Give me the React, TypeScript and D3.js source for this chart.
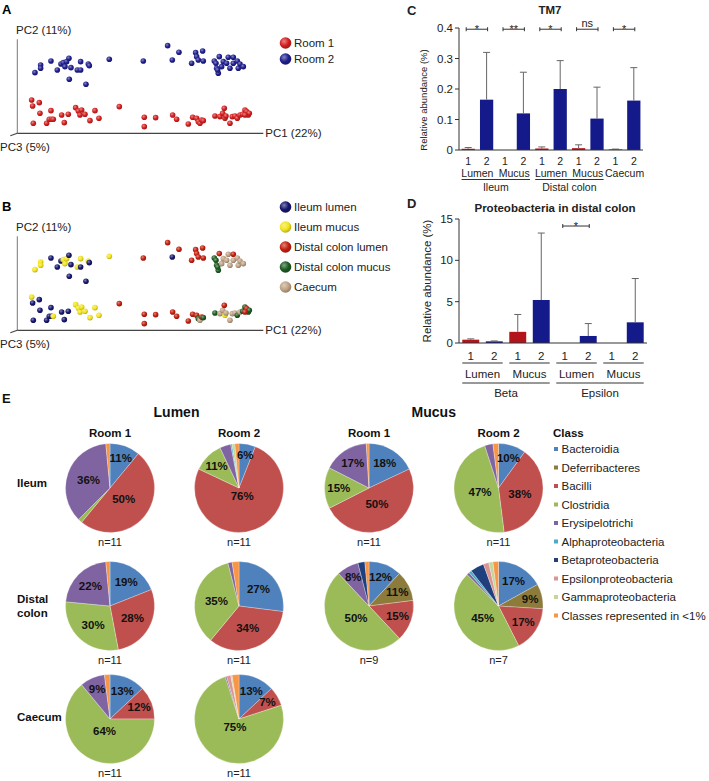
import * as d3 from "d3";

const FONT = "'Liberation Sans', Arial, Helvetica, sans-serif";

// ---------- A / B: PCoA scores (x1000), [PC1, PC2, site] ----------
type Score = [number, number, string];

const room1Scores: Score[] = [
  [-325, -30, "IM"], [-322, -48, "IL"], [-320, -100, "IL"], [-302, -38, "IL"],
  [-300, -70, "IL"], [-280, -100, "IL"], [-272, -88, "IL"], [-267, -62, "IL"],
  [-265, -88, "IL"], [-260, -88, "IM"], [-235, -75, "IL"], [-227, -98, "IL"],
  [-215, -73, "IL"], [-193, -53, "IM"], [-185, -63, "IM"], [-180, -75, "IM"],
  [-175, -60, "IM"], [-165, -73, "IM"], [-150, -92, "IM"], [-135, -62, "IM"],
  [-123, -85, "IM"], [-62, -50, "DL"], [13, -82, "DL"], [13, -110, "DL"],
  [47, -83, "DL"], [98, -75, "DL"], [110, -88, "DL"], [145, -102, "DL"],
  [158, -82, "DL"], [170, -85, "DL"], [175, -95, "DM"], [180, -100, "C"],
  [185, -90, "DL"], [190, -92, "DM"], [225, -78, "DM"], [240, -80, "C"],
  [248, -70, "C"], [253, -55, "DL"], [255, -85, "IM"], [258, -78, "C"],
  [270, -100, "C"], [277, -80, "C"], [285, -78, "C"], [292, -85, "DM"],
  [300, -75, "C"], [308, -73, "DM"], [315, -60, "DM"], [320, -65, "DL"],
  [325, -75, "DM"], [328, -70, "DM"], [315, -75, "DL"],
];

const room2Scores: Score[] = [
  [-315, 52, "IM"], [-298, 75, "IM"], [-298, 65, "IM"], [-267, 87, "IL"],
  [-248, 60, "IL"], [-237, 78, "IL"], [-230, 82, "IM"], [-225, 70, "IM"],
  [-220, 85, "IM"], [-213, 95, "IL"], [-207, 67, "IL"], [-212, 32, "IL"],
  [-188, 60, "IM"], [-178, 60, "IL"], [-178, 85, "IM"], [-155, 78, "IM"],
  [-152, 73, "IL"], [-162, 17, "IL"], [-92, 92, "IM"], [10, 87, "DL"],
  [83, 133, "DL"], [97, 90, "IL"], [117, 113, "DL"], [155, 80, "DL"],
  [167, 112, "DL"], [170, 100, "DL"], [175, 90, "DL"], [188, 117, "DL"],
  [190, 87, "DL"], [223, 87, "DM"], [228, 80, "DM"], [230, 65, "DM"],
  [235, 50, "DM"], [233, 60, "DM"], [238, 100, "DL"], [245, 70, "C"],
  [250, 85, "C"], [260, 80, "C"], [265, 98, "C"], [270, 65, "C"],
  [280, 98, "DL"], [280, 80, "C"], [292, 87, "C"], [295, 65, "C"],
  [300, 78, "C"], [310, 70, "C"],
];

const roomNames = ["Room 1", "Room 2"];
const roomColors = ["#d41f1f", "#1f1f8f"];
const siteKeys = ["IL", "IM", "DL", "DM", "C"];
const siteNames = ["Ileum lumen", "Ileum mucus", "Distal colon lumen", "Distal colon mucus", "Caecum"];
const siteColors = ["#17176f", "#f2e41e", "#c4200f", "#1d5c22", "#c0a386"];

// ---------- C: TM7 ----------
const tm7Groups = ["Lumen", "Mucus", "Lumen", "Mucus", "Caecum"];
const tm7Sites = [
  { name: "Ileum", from: 0, to: 1 },
  { name: "Distal colon", from: 2, to: 3 },
];
const tm7Room1Mean = [0.004, 0, 0.005, 0.006, 0.002];
const tm7Room1Sd = [0.004, 0, 0.005, 0.011, 0.001];
const tm7Room2Mean = [0.165, 0.12, 0.2, 0.103, 0.162];
const tm7Room2Sd = [0.155, 0.135, 0.093, 0.103, 0.108];
const tm7Sig = [
  { group: 0, label: "*" }, { group: 1, label: "**" }, { group: 2, label: "*" },
  { group: 3, label: "ns" }, { group: 4, label: "*" },
];
const tm7Ticks = [0, 0.1, 0.2, 0.3, 0.4];

// ---------- D: Proteobacteria in distal colon ----------
const proteoGroups = ["Lumen", "Mucus", "Lumen", "Mucus"];
const proteoClasses = [
  { name: "Beta", from: 0, to: 1 },
  { name: "Epsilon", from: 2, to: 3 },
];
const proteoRoom1Mean = [0.4, 1.35, 0, 0];
const proteoRoom1Sd = [0.1, 2.1, 0, 0];
const proteoRoom2Mean = [0.2, 5.2, 0.85, 2.5];
const proteoRoom2Sd = [0.05, 8.1, 1.5, 5.3];
const proteoSig = [{ group: 2, label: "*" }];
const proteoTicks = [0, 5, 10, 15];

// ---------- E: class composition (%) ----------
const classNames = [
  "Bacteroidia", "Deferribacteres", "Bacilli", "Clostridia", "Erysipelotrichi",
  "Alphaproteobacteria", "Betaproteobacteria", "Epsilonproteobacteria",
  "Gammaproteobacteria", "Classes represented in <1%",
];
const classColors = [
  "#4f81bd", "#8c7b3a", "#c0504d", "#9bbb59", "#8064a2",
  "#4bacc6", "#1f3f7d", "#d99694", "#c3d69b", "#f79646",
];
const lumenRoom1Ileum = [11, 0, 50, 1.5, 36, 0, 0, 0, 0, 1.5];
const lumenRoom2Ileum = [6, 0, 76, 11, 4, 0.5, 0, 0, 1, 1.5];
const mucusRoom1Ileum = [18, 0, 49.5, 15, 16.5, 0, 0, 0, 0, 1];
const mucusRoom2Ileum = [10, 0, 38, 47, 3, 0, 0, 0, 0, 2];
const lumenRoom1Colon = [19, 0, 28, 29.5, 22, 0, 0, 0, 0, 1.5];
const lumenRoom2Colon = [27, 0, 34, 35, 1.5, 0, 0, 0, 0, 2.5];
const mucusRoom1Colon = [12, 11, 15, 50, 8, 0, 2.5, 0, 0, 1.5];
const mucusRoom2Colon = [17, 9, 16.5, 45, 1, 1, 5, 2, 1.5, 2];
const lumenRoom1Caecum = [13, 0, 12, 64, 9, 0, 0, 0, 0, 2];
const lumenRoom2Caecum = [13, 0, 7, 75, 0.5, 0, 0, 1.5, 0.5, 2.5];

const pieColumns = ["Room 1", "Room 2", "Room 1", "Room 2"];
const pieRows = ["Ileum", "Distal colon", "Caecum"];
const pieGrid = [
  { col: 0, row: 0, values: lumenRoom1Ileum, n: 11 },
  { col: 1, row: 0, values: lumenRoom2Ileum, n: 11 },
  { col: 2, row: 0, values: mucusRoom1Ileum, n: 11 },
  { col: 3, row: 0, values: mucusRoom2Ileum, n: 11 },
  { col: 0, row: 1, values: lumenRoom1Colon, n: 11 },
  { col: 1, row: 1, values: lumenRoom2Colon, n: 11 },
  { col: 2, row: 1, values: mucusRoom1Colon, n: 9 },
  { col: 3, row: 1, values: mucusRoom2Colon, n: 7 },
  { col: 0, row: 2, values: lumenRoom1Caecum, n: 11 },
  { col: 1, row: 2, values: lumenRoom2Caecum, n: 11 },
];

const gradId = (c: string) => "sph" + c.replace("#", "");

function Sphere({ cx, cy, r, color }: { cx: number; cy: number; r: number; color: string }) {
  return <circle cx={cx} cy={cy} r={r} fill={`url(#${gradId(color)})`} />;
}

function PcoaPanel({ top, letter, colorOf, legend, legendTop, legendStep }: any) {
  const x = d3.scaleLinear().domain([-368, 370]).range([17.3, 263.3]);
  const y = d3.scaleLinear().domain([-130, 152]).range([top + 133.3, top + 39.3]);
  const [x0, x1] = x.domain();
  const [y0, y1] = y.domain();
  const all = [
    ...room1Scores.map((d) => ({ d, room: 0 })),
    ...room2Scores.map((d) => ({ d, room: 1 })),
  ];
  return (
    <g>
      <text x={2} y={top + 14} fontSize={13} fontWeight="bold">{letter}</text>
      <text x={16} y={top + 30} fontSize={11.5} dominantBaseline="central" fill="#222">PC2 (11%)</text>
      <line x1={x(x0)} x2={x(x0)} y1={y(y0)} y2={y(y1)} stroke="#777" strokeWidth={1} />
      <line x1={x(x0)} x2={x(x1)} y1={y(y0)} y2={y(y0)} stroke="#444" strokeWidth={1.2} />
      <line x1={x(x0)} x2={x(x0) - 7} y1={y(y0)} y2={y(y0) + 2.5} stroke="#444" strokeWidth={1.2} />
      <text x={x(x1) + 2} y={y(y0)} fontSize={11.5} dominantBaseline="central" fill="#222">PC1 (22%)</text>
      <text x={0} y={y(y0) + 14} fontSize={11.5} dominantBaseline="central" fill="#222">PC3 (5%)</text>
      {all.map(({ d, room }, i) => (
        <Sphere key={i} cx={x(d[0])} cy={y(d[1])} r={2.8} color={colorOf(room, d[2])} />
      ))}
      {legend.map((l: any, i: number) => (
        <g key={l.name} transform={`translate(285.5,${top + legendTop + i * legendStep})`}>
          <Sphere cx={0} cy={0} r={5.8} color={l.color} />
          <text x={8.5} y={0} fontSize={11.5} dominantBaseline="central" fill="#222">{l.name}</text>
        </g>
      ))}
    </g>
  );
}

function BarPanel(p: any) {
  const n = p.groups.length * 2;
  const x = d3.scaleBand<number>().domain(d3.range(n)).range(p.xRange).paddingInner(0.28).paddingOuter(0.14);
  const y = d3.scaleLinear().domain(p.yDomain).range(p.yRange);
  const bw = x.bandwidth();
  const base = y(0);
  const bars: any[] = [];
  p.groups.forEach((_: string, g: number) => {
    bars.push({ i: g * 2, mean: p.r1Mean[g], sd: p.r1Sd[g], color: "#b3141c" });
    bars.push({ i: g * 2 + 1, mean: p.r2Mean[g], sd: p.r2Sd[g], color: "#141a8a" });
  });
  const ax = p.xRange[0];
  const fs = p.labelSize;
  const cxOf = (i: number) => (x(i) as number) + bw / 2;
  const spanOf = (from: number, to: number) => [x(from * 2) as number, (x(to * 2 + 1) as number) + bw];
  return (
    <g fill="#222">
      <text x={407} y={p.letterY} fontSize={13} fontWeight="bold" dominantBaseline="central">{p.letter}</text>
      <text x={p.titleX} y={p.titleY} fontSize={11.5} fontWeight="bold" textAnchor="middle" dominantBaseline="central">{p.title}</text>
      <text transform={`translate(${p.yTitleX},${(p.yRange[0] + p.yRange[1]) / 2 + p.yTitleShift}) rotate(-90)`}
        fontSize={p.yTitleSize} textAnchor="middle" dominantBaseline="central">Relative abundance (%)</text>
      {bars.map((b) => {
        if (b.mean <= 0) return null;
        const cx = cxOf(b.i);
        return (
          <g key={b.i}>
            <rect x={x(b.i)} y={y(b.mean)} width={bw} height={base - y(b.mean)} fill={b.color} />
            {b.sd > 0 && (
              <g stroke="#666" strokeWidth={1}>
                <line x1={cx} x2={cx} y1={y(b.mean)} y2={y(b.mean + b.sd)} />
                <line x1={cx - 3.5} x2={cx + 3.5} y1={y(b.mean + b.sd)} y2={y(b.mean + b.sd)} />
              </g>
            )}
          </g>
        );
      })}
      <line x1={ax} x2={ax} y1={p.yRange[0]} y2={p.yRange[1]} stroke="#333" />
      <line x1={ax} x2={p.xRange[1]} y1={base} y2={base} stroke="#333" />
      {p.ticks.map((t: number) => (
        <g key={t}>
          <line x1={ax - 4} x2={ax} y1={y(t)} y2={y(t)} stroke="#333" />
          <text x={ax - 6} y={y(t)} fontSize={11.5} textAnchor="end" dominantBaseline="central">{p.tickFmt(t)}</text>
        </g>
      ))}
      {d3.range(n).map((i) => (
        <text key={i} x={cxOf(i)} y={p.numY} fontSize={fs} textAnchor="middle" dominantBaseline="central">{(i % 2) + 1}</text>
      ))}
      {p.groups.map((g: string, gi: number) => {
        const [a, b] = spanOf(gi, gi);
        return (
          <g key={gi}>
            {p.groupLineY != null && <line x1={a} x2={b} y1={p.groupLineY} y2={p.groupLineY} stroke="#333" />}
            <text x={(a + b) / 2} y={p.groupY} fontSize={fs} textAnchor="middle" dominantBaseline="central">{g}</text>
          </g>
        );
      })}
      {p.supers.map((s: any) => {
        const [a, b] = spanOf(s.from, s.to);
        return (
          <g key={s.name}>
            <line x1={a} x2={b} y1={p.superLineY} y2={p.superLineY} stroke="#333" />
            <text x={(a + b) / 2} y={p.superY} fontSize={fs} textAnchor="middle" dominantBaseline="central">{s.name}</text>
          </g>
        );
      })}
      {p.sig.map((s: any) => {
        const a = cxOf(s.group * 2) - 2;
        const b = cxOf(s.group * 2 + 1) + 1;
        const yy = y(p.sigLevel);
        return (
          <g key={s.group}>
            <g stroke="#333" strokeWidth={1}>
              <line x1={a} x2={b} y1={yy} y2={yy} />
              <line x1={a} x2={a} y1={yy - 2} y2={yy + 2} />
              <line x1={b} x2={b} y1={yy - 2} y2={yy + 2} />
            </g>
            <text x={(a + b) / 2} y={s.label === "ns" ? yy - 2 : yy + 3.5} fontSize={11} textAnchor="middle">{s.label}</text>
          </g>
        );
      })}
    </g>
  );
}

function PieGrid() {
  const R = 44.5;
  const colX = [110, 239, 369, 498.5];
  const rowY = [488, 606, 719];
  const pie = d3.pie<number>().sort(null).value((d) => d);
  const arc = d3.arc<d3.PieArcDatum<number>>().innerRadius(0).outerRadius(R);
  return (
    <g fill="#111">
      <text x={2} y={398} fontSize={13} fontWeight="bold" dominantBaseline="central">E</text>
      <text x={(colX[0] + colX[1]) / 2 + 2} y={412} fontSize={14} fontWeight="bold" textAnchor="middle" dominantBaseline="central">Lumen</text>
      <text x={(colX[2] + colX[3]) / 2} y={412} fontSize={14} fontWeight="bold" textAnchor="middle" dominantBaseline="central">Mucus</text>
      {pieColumns.map((c, i) => (
        <text key={i} x={colX[i]} y={433} fontSize={11.5} fontWeight="bold" textAnchor="middle" dominantBaseline="central">{c}</text>
      ))}
      {pieRows.map((r, i) => {
        const words = r.split(" ");
        return (
          <text key={r} x={17} y={rowY[i] - (words.length - 1) * 7 - (i === 0 ? 5 : 0) - (i === 2 ? 2 : 0)} fontSize={11.5} fontWeight="bold" dominantBaseline="central">
            {words.map((w, k) => (
              <tspan key={k} x={17} dy={k === 0 ? 0 : 14}>{w}</tspan>
            ))}
          </text>
        );
      })}
      {pieGrid.map((pg, pi) => {
        const arcs = pie(pg.values);
        const cx = colX[pg.col];
        const cy = rowY[pg.row];
        return (
          <g key={pi} transform={`translate(${cx},${cy})`}>
            {arcs.map((a, k) =>
              a.data > 0 ? (
                <path key={k} d={arc(a) as string} fill={classColors[k]} stroke="#fff" strokeWidth={0.4} strokeOpacity={0.7} />
              ) : null
            )}
            {arcs.map((a, k) => {
              if (a.data < 6) return null;
              const mid = (a.startAngle + a.endAngle) / 2;
              const rr = R * (0.8 - a.data * 0.008);
              return (
                <text key={"t" + k} x={Math.sin(mid) * rr} y={-Math.cos(mid) * rr} fontSize={11.5} fontWeight="bold"
                  textAnchor="middle" dominantBaseline="central">{`${Math.round(a.data)}%`}</text>
              );
            })}
            <text x={0} y={54} fontSize={11} textAnchor="middle" dominantBaseline="central" fill="#222">{`n=${pg.n}`}</text>
          </g>
        );
      })}
      <text x={553} y={433} fontSize={11.5} fontWeight="bold" dominantBaseline="central">Class</text>
      {classNames.map((c, i) => (
        <g key={c} transform={`translate(554,${449 + i * 18.5})`}>
          <rect x={0} y={-2} width={4} height={4} fill={classColors[i]} />
          <text x={7.5} y={0} fontSize={11.5} dominantBaseline="central" fill="#222">{c}</text>
        </g>
      ))}
    </g>
  );
}

export default function App() {
  const allColors = Array.from(new Set([...roomColors, ...siteColors]));
  return (
    <svg width={709} height={781} style={{ position: "absolute", left: 0, top: 0, background: "#fff" }} fontFamily={FONT}>
      <defs>
        {allColors.map((c) => (
          <radialGradient key={c} id={gradId(c)} cx="0.38" cy="0.35" r="0.7">
            <stop offset="0" stopColor={d3.interpolateRgb(c, "#ffffff")(0.45)} />
            <stop offset="0.55" stopColor={c} />
            <stop offset="1" stopColor={d3.color(c)!.darker(0.9).formatHex()} />
          </radialGradient>
        ))}
      </defs>
      <PcoaPanel top={0} letter="A" legendTop={43} legendStep={16}
        colorOf={(room: number) => roomColors[room]}
        legend={roomNames.map((n, i) => ({ name: n, color: roomColors[i] }))} />
      <PcoaPanel top={197} letter="B" legendTop={10} legendStep={20}
        colorOf={(_: number, site: string) => siteColors[siteKeys.indexOf(site)]}
        legend={siteNames.map((n, i) => ({ name: n, color: siteColors[i] }))} />
      <BarPanel letter="C" letterY={10} title="TM7" titleX={550} titleY={10}
        groups={tm7Groups} supers={tm7Sites}
        r1Mean={tm7Room1Mean} r1Sd={tm7Room1Sd} r2Mean={tm7Room2Mean} r2Sd={tm7Room2Sd}
        yDomain={[0, 0.4]} yRange={[150, 28]} xRange={[459, 643]}
        ticks={tm7Ticks} tickFmt={(t: number) => (t === 0 ? "0" : d3.format(".1f")(t))}
        yTitleX={423} yTitleSize={9.5} yTitleShift={11} labelSize={10.5}
        numY={160.5} groupLineY={null} groupY={172.5} superLineY={179.5} superY={186.5}
        sig={tm7Sig} sigLevel={0.396} />
      <BarPanel letter="D" letterY={203} title="Proteobacteria in distal colon" titleX={555} titleY={208}
        groups={proteoGroups} supers={proteoClasses}
        r1Mean={proteoRoom1Mean} r1Sd={proteoRoom1Sd} r2Mean={proteoRoom2Mean} r2Sd={proteoRoom2Sd}
        yDomain={[0, 15]} yRange={[343, 219]} xRange={[459, 647]}
        ticks={proteoTicks} tickFmt={(t: number) => String(t)}
        yTitleX={427} yTitleSize={11.5} yTitleShift={0} labelSize={11.5}
        numY={356} groupLineY={363} groupY={374} superLineY={383} superY={393}
        sig={proteoSig} sigLevel={14.15} />
      <PieGrid />
    </svg>
  );
}
